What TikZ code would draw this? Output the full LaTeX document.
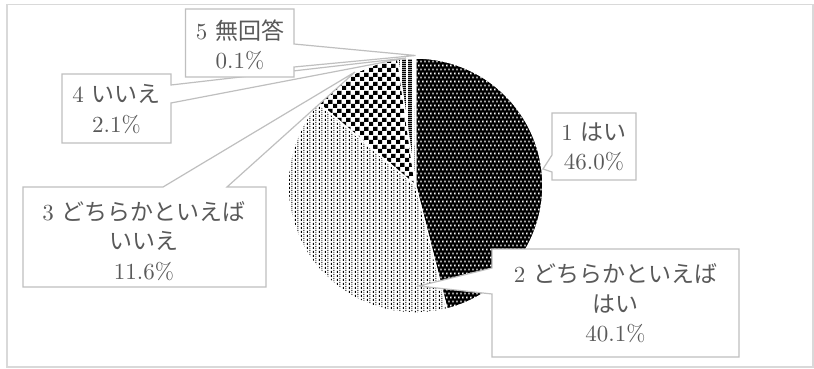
\documentclass[tikz,border=0pt]{standalone}
\usepackage{fontspec}
\setmainfont{lmroman10-regular.otf}
\newfontfamily\jp{Noto Sans CJK JP}
\usetikzlibrary{patterns.meta}
\definecolor{framegray}{HTML}{D9D9D9}
\definecolor{calloutgray}{HTML}{BFBFBF}
\definecolor{txtgray}{HTML}{595959}

\tikzdeclarepattern{name=blackwhitedots, type=colored,
  bottom left={(0pt,0pt)}, top right={(4pt,8.4pt)}, tile size={(4pt,8.4pt)},
  code={
    \fill[black] (0pt,0pt) rectangle (4pt,8.4pt);
    \fill[white] (0.6pt,0.8pt) rectangle (1.9pt,2.6pt);
    \fill[white] (2.6pt,5pt) rectangle (3.9pt,6.8pt);
  }}
\tikzdeclarepattern{name=dashcols, type=colored,
  bottom left={(0pt,0pt)}, top right={(6pt,4pt)}, tile size={(6pt,4pt)},
  code={
    \fill[white] (0pt,0pt) rectangle (6pt,4pt);
    \fill[black] (0.9pt,0.3pt) rectangle (2.2pt,2.7pt);
    \fill[black] (3.9pt,2.3pt) rectangle (5.2pt,4pt);
    \fill[black] (3.9pt,0pt) rectangle (5.2pt,0.7pt);
  }}
\tikzdeclarepattern{name=checks, type=colored,
  bottom left={(0pt,0pt)}, top right={(9pt,9pt)}, tile size={(9pt,9pt)},
  code={
    \fill[white] (0pt,0pt) rectangle (9pt,9pt);
    \fill[black] (0pt,0pt) rectangle (4.5pt,4.5pt);
    \fill[black] (4.5pt,4.5pt) rectangle (9pt,9pt);
  }}
\tikzdeclarepattern{name=vstripes, type=colored,
  bottom left={(0pt,0pt)}, top right={(6pt,2pt)}, tile size={(6pt,2pt)},
  code={
    \fill[white] (0pt,0pt) rectangle (6pt,2pt);
    \fill[black] (0pt,0pt) rectangle (4.2pt,2pt);
  }}

\tikzset{
  slice/.style={draw=white, line width=1.5pt, line join=round},
  callbox/.style={draw=calloutgray, fill=white, line width=1.2pt, line join=miter},
  lbl/.style={text=txtgray, font=\fontsize{23}{29.5}\selectfont, align=center, inner sep=0pt},
}

\begin{document}
\begin{tikzpicture}[x=1pt,y=-1pt]
\useasboundingbox (0,0) rectangle (814,369);
\draw[framegray, line width=1.5pt] (7,4.5) rectangle (813,367);

% pie
\coordinate (c) at (415.5,185.5);
\def\R{127.5}
\path[slice, pattern=blackwhitedots] (c) -- ++(-90:\R) arc[start angle=-90, end angle=75.77, radius=\R] -- cycle;
\path[slice, pattern=dashcols] (c) -- ++(75.77:\R) arc[start angle=75.77, end angle=220.27, radius=\R] -- cycle;
\path[slice, pattern=checks] (c) -- ++(220.27:\R) arc[start angle=220.27, end angle=262.07, radius=\R] -- cycle;
\path[slice, pattern=vstripes] (c) -- ++(262.07:\R) arc[start angle=262.07, end angle=269.64, radius=\R] -- cycle;
\path[slice, fill=white] (c) -- ++(269.64:\R) arc[start angle=269.64, end angle=270, radius=\R] -- cycle;

% callout tips
\coordinate (tip1) at (543,169);
\coordinate (tip2) at (419,286);
\coordinate (tip3) at (355,72);
\coordinate (tip4) at (406,58);
\coordinate (tip5) at (415.5,55.5);

% callouts
\draw[callbox] (552,113) -- (636,113) -- (636,180) -- (552,180) -- (552,172) -- (tip1) -- (552,155) -- cycle;
\draw[callbox] (492,249) -- (739,249) -- (739,357) -- (492,357) -- (492,294) -- (tip2) -- (492,268) -- cycle;
\draw[callbox] (23,187) -- (163,187) -- (tip3) -- (227,187) -- (266,187) -- (266,287) -- (23,287) -- cycle;
\draw[callbox] (62,74) -- (171,74) -- (171,85) -- (tip4) -- (171,103) -- (171,143) -- (62,143) -- cycle;
\draw[callbox] (185.5,9) -- (294,9) -- (294,44) -- (tip5) -- (294,67) -- (294,77) -- (185.5,77) -- cycle;

% labels
\node[lbl] (t1) at (594,147) {1 {\jp はい}\\46.0\%};
\node[lbl] (t2) at (615.5,303.5) {2 {\jp どちらかといえば}\\{\jp はい}\\40.1\%};
\node[lbl] (t3) at (144,241) {3 {\jp どちらかといえば}\\{\jp いいえ}\\11.6\%};
\node[lbl] (t4) at (116.5,109) {4 {\jp いいえ}\\2.1\%};
\node[lbl] (t5) at (240,45) {5 {\jp 無回答}\\0.1\%};
\end{tikzpicture}
\end{document}
